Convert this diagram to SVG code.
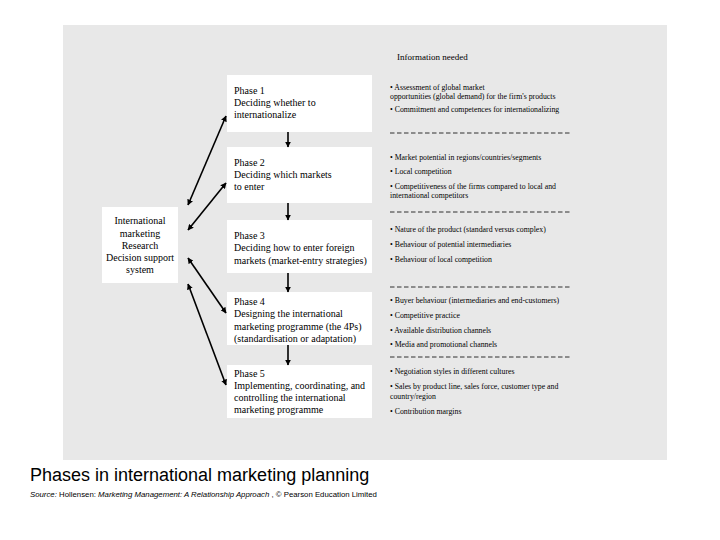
<svg xmlns="http://www.w3.org/2000/svg" width="720" height="540" viewBox="0 0 720 540">
<style>
.ph{font-family:"Liberation Serif","Times New Roman",serif;font-size:10px;fill:#000}
.inf{font-family:"Liberation Serif","Times New Roman",serif;font-size:7.8px;fill:#000}
.box{fill:#fff;stroke:none}
.ln{stroke:#000;stroke-width:1.6;fill:none}
.dash{stroke:#000;stroke-width:0.8;stroke-dasharray:4.5,2.5}
</style>
<defs>
<marker id="ah" viewBox="0 0 10 10" refX="9" refY="5" markerWidth="6" markerHeight="6" orient="auto-start-reverse" markerUnits="userSpaceOnUse">
<path d="M0,0 L10,5 L0,10 z" fill="#000"/>
</marker>
</defs>
<rect x="0" y="0" width="720" height="540" fill="#fff"/>
<rect x="63" y="25" width="604" height="435" fill="#e8e8e8"/>
<text class="ph" x="397" y="60" style="font-size:9px">Information needed</text>

<g id="phase1">
<rect class="box" x="227" y="75" width="145" height="57"/>
<text class="ph" x="234" y="94">Phase 1</text>
<text class="ph" x="234" y="106">Deciding whether to</text>
<text class="ph" x="234" y="118">internationalize</text>
</g>
<g id="phase2">
<rect class="box" x="227" y="147" width="145" height="56"/>
<text class="ph" x="234" y="166">Phase 2</text>
<text class="ph" x="234" y="178">Deciding which markets</text>
<text class="ph" x="234" y="190">to enter</text>
</g>
<g id="phase3">
<rect class="box" x="227" y="220" width="145" height="53"/>
<text class="ph" x="234" y="239">Phase 3</text>
<text class="ph" x="234" y="251">Deciding how to enter foreign</text>
<text class="ph" x="234" y="264">markets (market-entry strategies)</text>
</g>
<g id="phase4">
<rect class="box" x="227" y="292" width="145" height="53"/>
<text class="ph" x="234" y="305">Phase 4</text>
<text class="ph" x="234" y="317">Designing the international</text>
<text class="ph" x="234" y="330">marketing programme (the 4Ps)</text>
<text class="ph" x="234" y="342">(standardisation or adaptation)</text>
</g>
<g id="phase5">
<rect class="box" x="227" y="365" width="145" height="53"/>
<text class="ph" x="234" y="377">Phase 5</text>
<text class="ph" x="234" y="389">Implementing, coordinating, and</text>
<text class="ph" x="234" y="401">controlling the international</text>
<text class="ph" x="234" y="413">marketing programme</text>
</g>
<g id="research">
<rect class="box" x="102" y="207" width="76" height="76"/>
<text class="ph" x="140" y="224" text-anchor="middle">International</text>
<text class="ph" x="140" y="237" text-anchor="middle">marketing</text>
<text class="ph" x="140" y="249" text-anchor="middle">Research</text>
<text class="ph" x="140" y="261" text-anchor="middle">Decision support</text>
<text class="ph" x="140" y="273" text-anchor="middle">system</text>
</g>

<g id="info">
<text class="inf" x="390" y="90">• Assessment of global market</text>
<text class="inf" x="390" y="99">opportunities (global demand) for the firm's products</text>
<text class="inf" x="390" y="112">• Commitment and competences for internationalizing</text>
<text class="inf" x="390" y="160">• Market potential in regions/countries/segments</text>
<text class="inf" x="390" y="174">• Local competition</text>
<text class="inf" x="390" y="189">• Competitiveness of the firms compared to local and</text>
<text class="inf" x="390" y="198">international competitors</text>
<text class="inf" x="390" y="232">• Nature of the product (standard versus complex)</text>
<text class="inf" x="390" y="247">• Behaviour of potential intermediaries</text>
<text class="inf" x="390" y="262">• Behaviour of local competition</text>
<text class="inf" x="390" y="303">• Buyer behaviour (intermediaries and end-customers)</text>
<text class="inf" x="390" y="318">• Competitive practice</text>
<text class="inf" x="390" y="333">• Available distribution channels</text>
<text class="inf" x="390" y="347">• Media and promotional channels</text>
<text class="inf" x="390" y="374">• Negotiation styles in different cultures</text>
<text class="inf" x="390" y="389">• Sales by product line, sales force, customer type and</text>
<text class="inf" x="390" y="399">country/region</text>
<text class="inf" x="390" y="414">• Contribution margins</text>
<line class="dash" x1="390" y1="133" x2="570" y2="133"/>
<line class="dash" x1="390" y1="212" x2="570" y2="212"/>
<line class="dash" x1="390" y1="287" x2="570" y2="287"/>
<line class="dash" x1="390" y1="357" x2="570" y2="357"/>
</g>

<g id="connectors">
<line class="ln" x1="288" y1="132" x2="288" y2="147" marker-end="url(#ah)"/>
<line class="ln" x1="288" y1="203" x2="288" y2="220" marker-end="url(#ah)"/>
<line class="ln" x1="288" y1="273" x2="288" y2="292" marker-end="url(#ah)"/>
<line class="ln" x1="288" y1="345" x2="288" y2="365" marker-end="url(#ah)"/>
<line class="ln" x1="188" y1="205" x2="226" y2="116" marker-start="url(#ah)" marker-end="url(#ah)"/>
<line class="ln" x1="188" y1="230" x2="226" y2="183" marker-start="url(#ah)" marker-end="url(#ah)"/>
<line class="ln" x1="188" y1="258" x2="226" y2="313" marker-start="url(#ah)" marker-end="url(#ah)"/>
<line class="ln" x1="188" y1="284" x2="226" y2="385" marker-start="url(#ah)" marker-end="url(#ah)"/>
</g>

<text x="30" y="481" style="font-family:'Liberation Sans',Arial,sans-serif;font-size:18px" fill="#000">Phases in international marketing planning</text>
<text x="30" y="497" style="font-family:'Liberation Sans',Arial,sans-serif;font-size:7.8px" fill="#000"><tspan font-style="italic">Source:</tspan> Hollensen: <tspan font-style="italic">Marketing Management: A Relationship Approach</tspan> , © Pearson Education Limited</text>
</svg>
